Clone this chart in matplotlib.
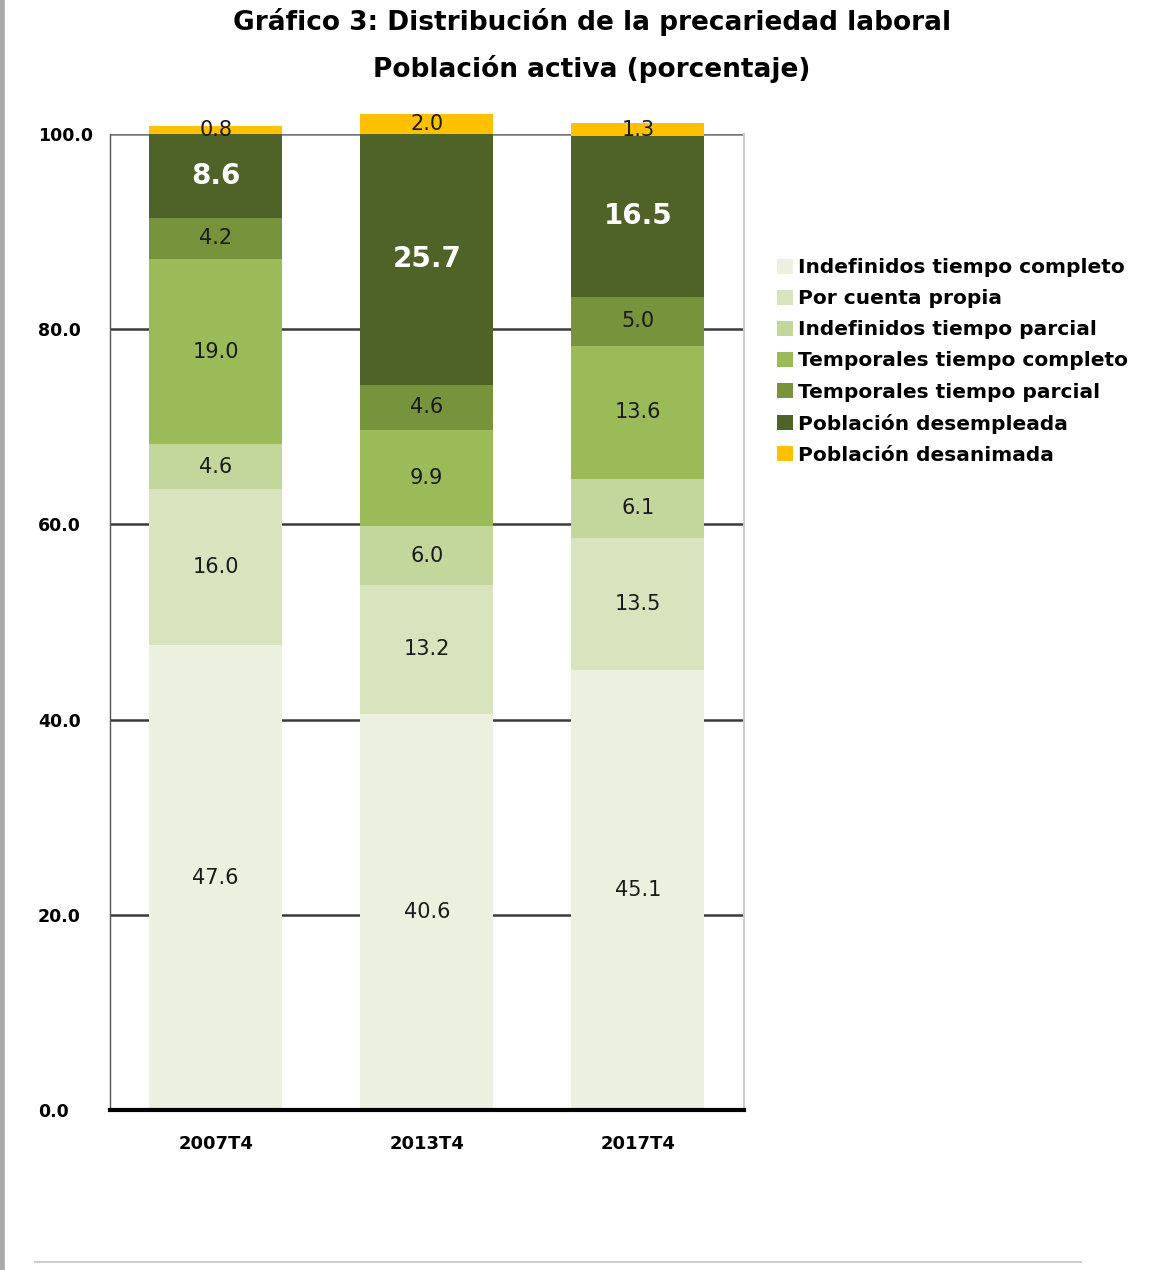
import matplotlib
matplotlib.use("Agg")
import matplotlib.pyplot as plt
from matplotlib.lines import Line2D
import numpy as np

categories = ["2007T4", "2013T4", "2017T4"]
series_names = ["Indefinidos tiempo completo", "Por cuenta propia", "Indefinidos tiempo parcial",
                "Temporales tiempo completo", "Temporales tiempo parcial",
                "Población desempleada", "Población desanimada"]
indef_completo = [47.6, 40.6, 45.1]
cuenta_propia = [16.0, 13.2, 13.5]
indef_parcial = [4.6, 6.0, 6.1]
temp_completo = [19.0, 9.9, 13.6]
temp_parcial = [4.2, 4.6, 5.0]
desempleada = [8.6, 25.7, 16.5]
desanimada = [0.8, 2.0, 1.3]
yticks = [0, 20, 40, 60, 80, 100]

colors = ["#EBF1DE", "#D7E4BD", "#C3D69B", "#9BBB59", "#77933C", "#4F6228", "#FFC000"]
series = [indef_completo, cuenta_propia, indef_parcial, temp_completo, temp_parcial, desempleada, desanimada]

fig = plt.figure(figsize=(11.72, 12.70), dpi=100)
ax = fig.add_axes([0.0939, 0.126, 0.5405, 0.7685])

x = np.arange(len(categories))
bottom = np.zeros(len(categories))
handles = []
for i, (vals, col, name) in enumerate(zip(series, colors, series_names)):
    vals = np.array(vals)
    bars = ax.bar(x, vals, bottom=bottom, width=0.63, color=col, label=name,
                  zorder=3, clip_on=False, edgecolor="none")
    handles.append(bars)
    for xi, v, b in zip(x, vals, bottom):
        yc = b + v / 2
        if i == 5:
            ax.text(xi, yc, f"{v:.1f}", ha="center", va="center",
                    fontsize=20, fontweight="bold", color="white", zorder=5, clip_on=False)
        else:
            ax.text(xi, yc, f"{v:.1f}", ha="center", va="center",
                    fontsize=15, color="#1a1a1a", zorder=5, clip_on=False)
    bottom += vals

ax.set_xlim(-0.5, 2.5)
ax.set_ylim(0, 100)
ax.set_yticks(yticks)
ax.set_yticklabels([f"{t:.1f}" for t in yticks], fontsize=12.5, fontweight="bold")
ax.set_xticks(x)
ax.set_xticklabels(categories, fontsize=13, fontweight="bold")
ax.tick_params(axis="both", length=0)
ax.tick_params(axis="y", pad=52)
ax.tick_params(axis="x", pad=18)
for t in ax.get_yticklabels():
    t.set_horizontalalignment("left")

for g in [20, 40, 60, 80]:
    ax.axhline(g, color="#3a3a3a", lw=1.8, zorder=1)
ax.axhline(100, color="#777777", lw=1.8, zorder=1)

ax.spines["left"].set_color("#555555")
ax.spines["left"].set_linewidth(1.0)
ax.spines["right"].set_color("#cccccc")
ax.spines["right"].set_linewidth(1.5)
ax.spines["top"].set_visible(False)
ax.spines["bottom"].set_color("black")
ax.spines["bottom"].set_linewidth(3)
ax.spines["bottom"].set_zorder(4)

fig.text(0.505, 0.983, "Gráfico 3: Distribución de la precariedad laboral", ha="center", va="center",
         fontsize=19, fontweight="bold")
fig.text(0.505, 0.946, "Población activa (porcentaje)", ha="center", va="center",
         fontsize=19, fontweight="bold")

leg = fig.legend(handles=handles, labels=series_names, loc="upper left",
                 bbox_to_anchor=(0.656, 0.803), frameon=False,
                 prop={"size": 14.5, "weight": "bold"}, handlelength=0.8, handleheight=0.8,
                 handletextpad=0.25, labelspacing=0.6, borderaxespad=0)

# decorative frame pieces
fig.add_artist(Line2D([0.002, 0.002], [0, 1], color="#aaaaaa", lw=4, transform=fig.transFigure))
fig.add_artist(Line2D([0.03, 0.922], [0.006, 0.006], color="#cccccc", lw=1.5, transform=fig.transFigure))

fig.savefig("out.png", dpi=100)
